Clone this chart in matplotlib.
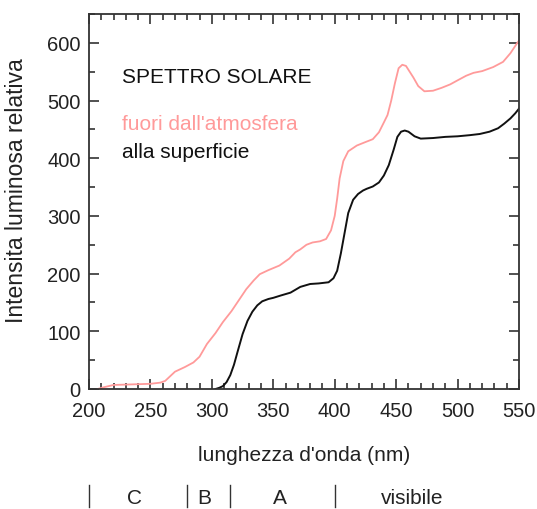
import matplotlib.pyplot as plt
from matplotlib.ticker import MultipleLocator

plt.rcParams['font.family'] = ['Liberation Sans', 'DejaVu Sans']

# spettro fuori dall'atmosfera
wl_out = [207, 212, 220, 235, 250, 258, 262, 266, 270, 278, 285, 290, 296, 303, 309, 316, 322,
          328, 334, 339, 346, 355, 363, 368, 372, 377, 382, 388, 393, 397, 400, 402, 404, 407,
          411, 418, 425, 431, 436, 440, 443, 446, 449, 452, 455, 458, 461, 464, 468, 473,
          480, 487, 494, 500, 507, 513, 520, 529, 537, 543, 548, 550]
in_out = [0, 3, 7, 8, 9, 11, 14, 22, 30, 38, 46, 56, 78, 97, 116, 135, 154,
          173, 188, 199, 206, 214, 226, 237, 242, 250, 254, 256, 260, 275, 300, 330, 365, 395,
          412, 422, 428, 433, 445, 462, 475, 500, 530, 556, 562, 560, 550, 540, 525, 516,
          517, 522, 528, 535, 543, 548, 551, 558, 567, 582, 598, 604]

# spettro alla superficie
wl_sur = [303, 306, 309, 312, 315, 318, 321, 325, 329, 333, 337, 341, 346, 350, 356, 364, 372,
          380, 387, 395, 399, 402, 405, 408, 411, 415, 419, 423, 426, 431, 436, 440, 444, 448,
          451, 454, 457, 460, 465, 470, 480, 490, 500, 510, 518, 526, 533, 538, 543, 547, 550]
in_sur = [0, 2, 5, 12, 24, 42, 65, 95, 118, 134, 145, 152, 156, 158, 162, 167, 177,
          182, 183, 185, 192, 205, 235, 270, 305, 328, 338, 344, 347, 351, 358, 370, 388, 415,
          437, 446, 448, 446, 438, 434, 435, 437, 438, 440, 442, 446, 452, 460, 469, 478, 486]

# bande UV
band_edges = [200, 280, 315, 400]
band_names = ['C', 'B', 'A', 'visibile']
band_label_x = [237, 294, 355, 463]

fig = plt.figure(figsize=(5.37, 5.10), dpi=100)
ax = fig.add_axes([0.1657, 0.2353, 0.8008, 0.7353])

ax.plot(wl_out, in_out, color='#ff9a9a', lw=1.3)
ax.plot(wl_sur, in_sur, color='#111111', lw=1.4)

ax.set_xlim(200, 550)
ax.set_ylim(0, 650)
ax.xaxis.set_major_locator(MultipleLocator(50))
ax.xaxis.set_minor_locator(MultipleLocator(10))
ax.yaxis.set_major_locator(MultipleLocator(100))
ax.yaxis.set_minor_locator(MultipleLocator(50))
ax.tick_params(which='both', direction='in', top=True, right=True, width=1.2, colors='#333333',
               labelcolor='#222222', labelsize=14.5)
ax.tick_params(which='major', length=7)
ax.tick_params(which='minor', length=4)
ax.tick_params(axis='x', pad=9)
ax.tick_params(axis='y', pad=6)
for s in ax.spines.values():
    s.set_linewidth(1.3)
    s.set_color('#333333')

ax.set_xlabel("lunghezza d'onda (nm)", fontsize=15, color='#222222')
ax.set_ylabel('Intensita luminosa relativa', fontsize=16.5, color='#222222')
ax.xaxis.set_label_coords(0.5, -0.15)
ax.yaxis.set_label_coords(-0.142, 0.532)

ax.text(0.077, 0.819, 'SPETTRO SOLARE', transform=ax.transAxes, fontsize=15, color='#111111',
        va='baseline')
ax.text(0.077, 0.693, "fuori dall'atmosfera", transform=ax.transAxes, fontsize=15,
        color='#ff9a9a', va='baseline')
ax.text(0.077, 0.619, 'alla superficie', transform=ax.transAxes, fontsize=15, color='#111111',
        va='baseline')

tr = ax.get_xaxis_transform()
for e in band_edges:
    ax.plot([e, e], [-0.255, -0.315], transform=tr, color='#333333', lw=1, clip_on=False)
for name, x in zip(band_names, band_label_x):
    ax.text(x, -0.29, name, transform=tr, ha='center', va='center', fontsize=15,
            color='#222222')

fig.savefig('out.png', dpi=100)
